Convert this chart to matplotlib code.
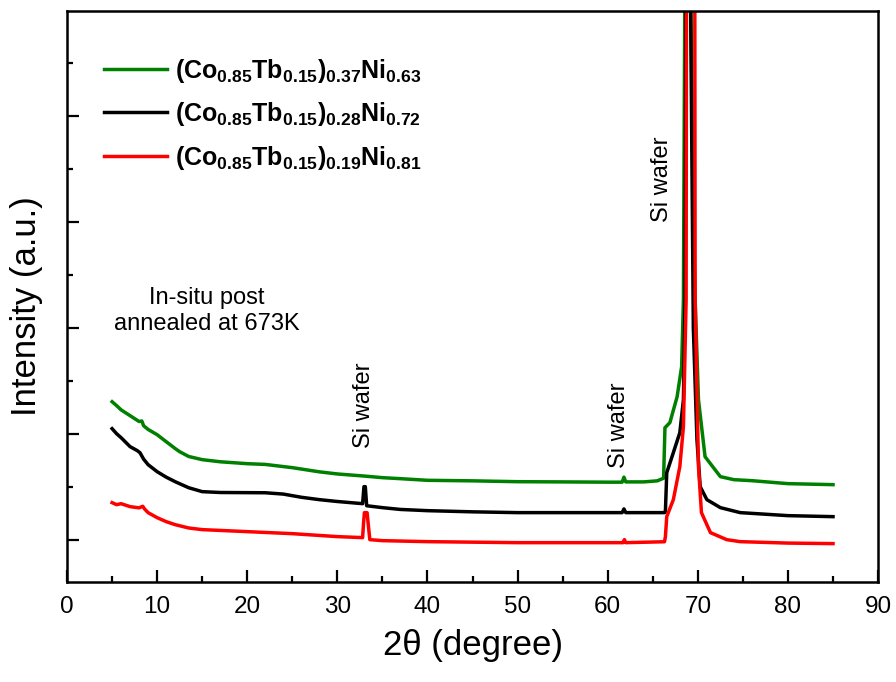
import matplotlib
matplotlib.use('Agg')
import matplotlib.pyplot as plt
from matplotlib.ticker import MultipleLocator

plt.rcParams['font.family'] = ['Liberation Sans', 'DejaVu Sans']
plt.rcParams['mathtext.fontset'] = 'custom'
plt.rcParams['mathtext.rm'] = 'Liberation Sans'
plt.rcParams['mathtext.bf'] = 'Liberation Sans:bold'
plt.rcParams['mathtext.it'] = 'Liberation Sans:italic'

# XRD scans, 2theta (deg) vs intensity (arb. counts)
tth_green = [5.0, 5.5, 6.0, 7.0, 8.0, 8.3, 8.5, 9.0, 10.0, 11.0, 12.0, 12.5, 13.5,
             15.0, 17.0, 20.0, 22.0, 25.0, 28.0, 30.0, 33.0, 35.0, 37.0, 40.0,
             45.0, 50.0, 55.0, 60.0, 61.6, 61.8, 62.0, 64.0, 65.5, 66.2, 66.35,
             66.9, 67.7, 68.2, 68.4, 68.6, 68.85, 69.1, 69.5, 69.7, 70.07, 70.8,
             72.5, 74.0, 76.0, 80.0, 85.0]
int_green = [4604, 4530, 4450, 4340, 4230, 4240, 4150, 4080, 3981, 3850, 3720, 3660, 3570,
             3510, 3470, 3434, 3420, 3359, 3280, 3240, 3200, 3170, 3151, 3120,
             3110, 3094, 3090, 3085, 3085, 3180, 3090, 3090, 3110, 3160, 4113,
             4210, 4698, 5264, 6530, 14000, 30000, 14000, 8000, 6530, 4640, 3566,
             3189, 3132, 3113, 3057, 3038]

tth_black = [5.0, 5.5, 6.0, 7.0, 7.8, 8.1, 8.5, 9.0, 10.0, 11.0, 12.0, 13.5, 15.0,
             17.0, 20.0, 22.0, 24.0, 26.0, 28.0, 30.0, 32.8, 32.95, 33.1, 33.25, 35.0,
             37.0, 40.0, 45.0, 50.0, 55.0, 60.0, 61.6, 61.8, 62.0, 66.3, 66.4,
             66.55, 67.28, 68.0, 68.4, 68.58, 68.7, 68.9, 69.1, 69.5, 69.9, 70.26,
             71.0, 72.5, 74.7, 80.0, 85.0]
int_black = [4095, 4000, 3925, 3755, 3680, 3640, 3520, 3415, 3283, 3180, 3094, 2980, 2906,
             2890, 2887, 2885, 2860, 2800, 2755, 2720, 2679, 3000, 3000, 2640, 2604,
             2570, 2547, 2525, 2510, 2510, 2510, 2510, 2580, 2510, 2510, 2530,
             3264, 3642, 4019, 4642, 6530, 14000, 30000, 14000, 6000, 3887, 3000,
             2755, 2604, 2510, 2453, 2434]

tth_red = [5.0, 5.5, 6.0, 7.0, 8.0, 8.4, 8.6, 9.0, 10.0, 11.0, 12.0, 13.5, 15.0,
           20.0, 25.0, 30.0, 32.8, 32.9, 33.0, 33.3, 33.45, 33.6, 35.0, 40.0,
           50.0, 60.0, 61.7, 61.85, 62.0, 66.3, 66.4, 66.55, 67.28, 68.0, 68.4,
           68.7, 68.75, 69.0, 69.4, 69.65, 69.7, 70.07, 70.4, 71.4, 73.2, 74.7,
           80.0, 85.0]
int_red = [2698, 2660, 2679, 2623, 2600, 2630, 2580, 2509, 2415, 2340, 2283, 2220, 2189,
           2151, 2113, 2057, 2038, 2300, 2509, 2509, 2250, 2000, 1981, 1962,
           1943, 1943, 1943, 2000, 1943, 1960, 2057, 2434, 2755, 3377, 4132,
           6530, 14000, 30000, 30000, 14000, 6530, 3377, 2510, 2132, 2000, 1962,
           1935, 1925]

labels = [r'$\mathbf{(Co_{0.85}Tb_{0.15})_{0.37}Ni_{0.63}}$',
          r'$\mathbf{(Co_{0.85}Tb_{0.15})_{0.28}Ni_{0.72}}$',
          r'$\mathbf{(Co_{0.85}Tb_{0.15})_{0.19}Ni_{0.81}}$']

fig = plt.figure(figsize=(8.96, 6.82), dpi=100)
ax = fig.add_axes([0.0748, 0.1466, 0.9052, 0.8373])

ax.plot(tth_green, int_green, color='#008000', lw=2.5, label=labels[0])
ax.plot(tth_black, int_black, color='black', lw=2.5, label=labels[1])
ax.plot(tth_red, int_red, color='#ff0000', lw=2.5, label=labels[2])

ax.set_xlim(0, 90)
ax.set_ylim(1200, 11980)
ax.xaxis.set_major_locator(MultipleLocator(10))
ax.xaxis.set_minor_locator(MultipleLocator(5))
ax.yaxis.set_major_locator(MultipleLocator(2000))
ax.yaxis.set_minor_locator(MultipleLocator(1000))
ax.tick_params(which='both', direction='in', width=1.6, top=False, right=False)
ax.tick_params(which='major', length=8.5)
ax.tick_params(which='minor', length=4.5)
ax.tick_params(axis='x', labelsize=17.5, pad=10)
ax.tick_params(axis='y', labelleft=False)
for sp in ax.spines.values():
    sp.set_linewidth(1.8)

ax.set_xlabel(r'2θ (degree)', fontsize=25, labelpad=8)
ax.set_ylabel('Intensity (a.u.)', fontsize=25)
ax.yaxis.set_label_coords(-0.030, 0.483)

ax.text(15.5, 6321, 'In-situ post\nannealed at 673K', fontsize=17,
        ha='center', va='center', linespacing=1.25)
ax.text(32.9, 4529, 'Si wafer', fontsize=17, rotation=90, ha='center', va='center')
ax.text(61.3, 4151, 'Si wafer', fontsize=17, rotation=90, ha='center', va='center')
ax.text(66.0, 8812, 'Si wafer', fontsize=17, rotation=90, ha='center', va='center')

ax.legend(loc='upper left', bbox_to_anchor=(0.0456, 0.920), frameon=False,
          fontsize=18, handlelength=2.5, handletextpad=0.34, labelspacing=0.62,
          borderpad=0, borderaxespad=0)

fig.savefig('out.png', dpi=100)
